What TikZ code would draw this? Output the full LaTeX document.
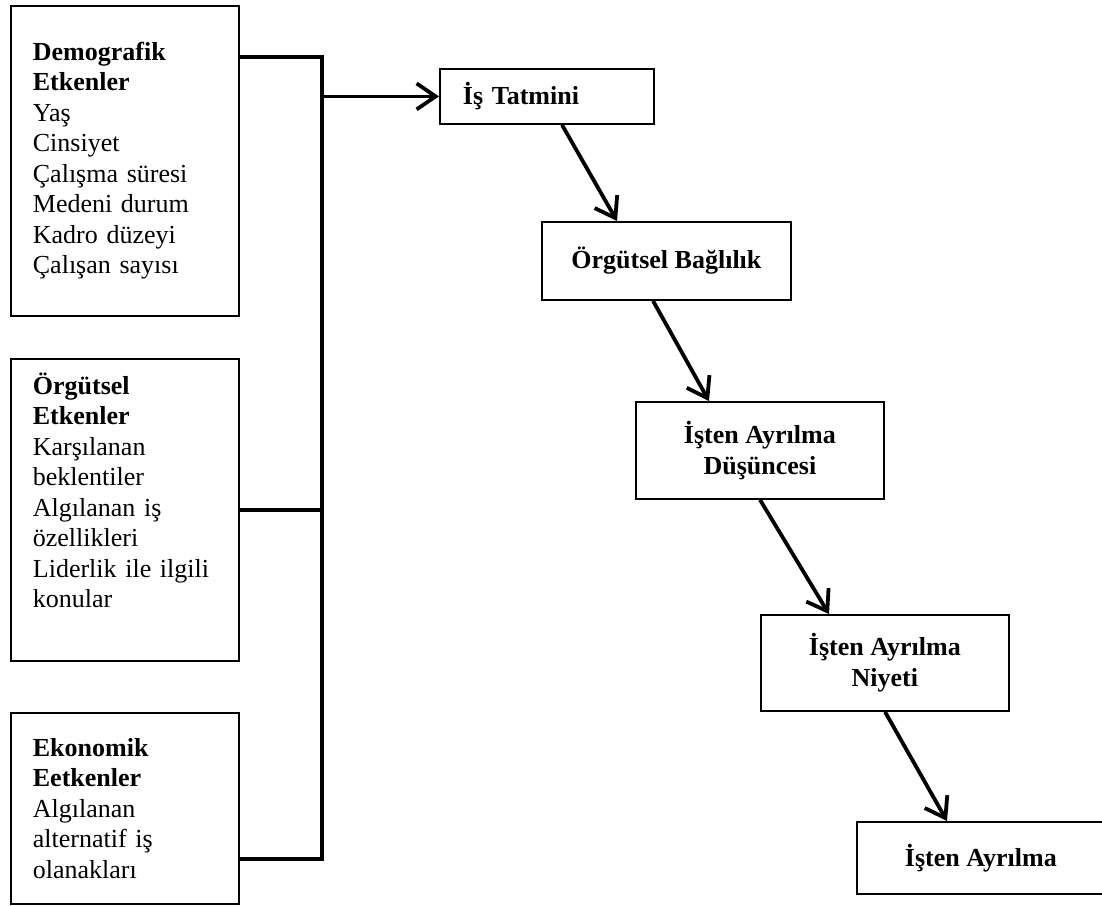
\documentclass[tikz,border=0pt]{standalone}
\usepackage{fontspec}
\setmainfont{Liberation Serif}
\usetikzlibrary{arrows.meta,calc}
\begin{document}
\begin{tikzpicture}[x=1pt,y=-1pt,
  box/.style={draw, line width=1.8pt, inner sep=0pt, anchor=north west,
    font=\fontsize{26pt}{30.5pt}\selectfont},
  leftbox/.style={box, align=left, text width=184pt, minimum width=228pt},
  stagebox/.style={box, font=\fontsize{26pt}{30.5pt}\selectfont\bfseries, align=center},
  conn/.style={line width=3.6pt, line join=miter},
  arr/.style={line width=3.8pt, -{Straight Barb[length=19pt,width=26pt]}}
]
\useasboundingbox[fill=white] (0,0) rectangle (1102,905);

% left factor boxes
\node[leftbox, minimum height=310pt] (b1) at (10,5)
  {\textbf{Demografik}\\\textbf{Etkenler}\\Yaş\\Cinsiyet\\Çalışma süresi\\Medeni durum\\Kadro düzeyi\\Çalışan sayısı};
\node[leftbox, minimum height=302pt] (b2) at (10,358)
  {\textbf{Örgütsel}\\\textbf{Etkenler}\\Karşılanan\\beklentiler\\Algılanan iş\\özellikleri\\Liderlik ile ilgili\\konular\\\strut};
\node[leftbox, minimum height=191pt] (b3) at (10,712)
  {\textbf{Ekonomik}\\\textbf{Eetkenler}\\Algılanan\\alternatif iş\\olanakları};

% stage boxes
\node[stagebox, align=left, text width=168pt, inner xsep=23pt, minimum width=214pt, minimum height=55pt] (t1) at (439,68) {İş Tatmini};
\node[stagebox, minimum width=249pt, minimum height=78pt] (t2) at (541,221) {Örgütsel Bağlılık};
\node[stagebox, minimum width=248pt, minimum height=97pt] (t3) at (635,401) {İşten Ayrılma\\Düşüncesi};
\node[stagebox, minimum width=248pt, minimum height=96pt] (t4) at (760,614) {İşten Ayrılma\\Niyeti};
\node[stagebox, minimum width=248pt, minimum height=72pt] (t5) at (856,821) {İşten Ayrılma};

% bracket / bus
\coordinate (jt) at (322,57);
\coordinate (jb) at (322,859);
\draw[conn] ([yshift=-52pt]b1.north east) -- (jt) -- (jb) -- (b3.south east |- jb);
\draw[conn] (b2.east) -- (b2.east -| jt);
\draw[arr] (t1.west -| jt) -- (t1.west);

% chain arrows
\draw[arr] ([xshift=123pt]t1.south west) -- ([xshift=76pt]t2.north west);
\draw[arr] ([xshift=112pt]t2.south west) -- ([xshift=74pt]t3.north west);
\draw[arr] ([xshift=125pt]t3.south west) -- ([xshift=69pt]t4.north west);
\draw[arr] ([xshift=125pt]t4.south west) -- ([xshift=91pt]t5.north west);
\end{tikzpicture}
\end{document}
